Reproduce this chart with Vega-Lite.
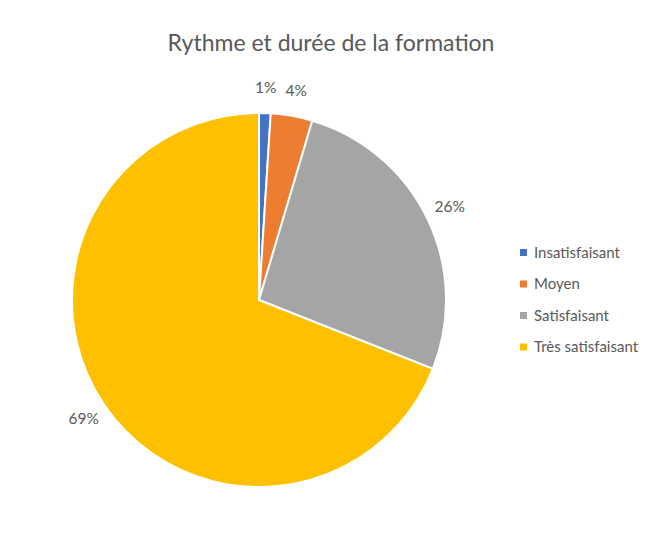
{
  "$schema": "https://vega.github.io/schema/vega-lite/v6.json",
  "width": 440,
  "height": 440,
  "autosize": "none",
  "padding": {"left": 39, "top": 80, "right": 175, "bottom": 13},
  "background": "white",
  "title": {
    "text": "Rythme et durée de la formation",
    "font": "Lato",
    "fontSize": 23,
    "fontWeight": "normal",
    "color": "#595959",
    "anchor": "middle",
    "dx": 72,
    "offset": 24
  },
  "data": {
    "values": [
      {"cat": "Insatisfaisant", "value": 0.010, "ord": 1},
      {"cat": "Moyen", "value": 0.036, "ord": 2},
      {"cat": "Satisfaisant", "value": 0.264, "ord": 3},
      {"cat": "Très satisfaisant", "value": 0.690, "ord": 4}
    ]
  },
  "encoding": {
    "theta": {"field": "value", "type": "quantitative", "stack": true},
    "order": {"field": "ord", "type": "quantitative"}
  },
  "layer": [
    {
      "mark": {"type": "arc", "outerRadius": 187, "stroke": "white", "strokeWidth": 2},
      "encoding": {
        "color": {
          "field": "cat",
          "type": "nominal",
          "scale": {
            "domain": ["Insatisfaisant", "Moyen", "Satisfaisant", "Très satisfaisant"],
            "range": ["#4472C4", "#ED7D31", "#A5A5A5", "#FFC000"]
          },
          "legend": {
            "title": null,
            "orient": "none",
            "legendX": 477,
            "legendY": 165,
            "symbolType": "square",
            "symbolSize": 49,
            "symbolStrokeWidth": 0,
            "labelFont": "Lato",
            "labelFontSize": 15,
            "labelColor": "#595959",
            "rowPadding": 15.5,
            "labelOffset": 3
          }
        }
      }
    },
    {
      "mark": {"type": "text", "radius": 212, "font": "Lato", "fontSize": 15.5, "color": "#595959"},
      "encoding": {
        "detail": {"field": "cat", "type": "nominal"},
        "text": {"field": "value", "type": "quantitative", "format": ".0%"}
      }
    }
  ],
  "config": {"view": {"stroke": null}}
}
